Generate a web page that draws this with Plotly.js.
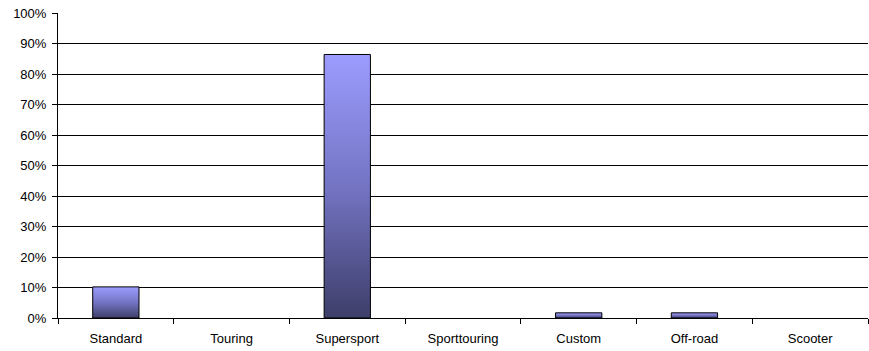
<!DOCTYPE html>
<html><head><meta charset="utf-8">
<script src="https://cdn.plot.ly/plotly-3.0.1.min.js"></script>
<style>html,body{margin:0;padding:0;background:#fff}</style>
</head><body>
<div id="chart" style="width:869px;height:351px"></div>
<script>
const categories = ["Standard","Touring","Supersport","Sporttouring","Custom","Off-road","Scooter"];
const shares = [0.102, 0, 0.864, 0, 0.017, 0.017, 0];
const yTickVals = [0,0.1,0.2,0.3,0.4,0.5,0.6,0.7,0.8,0.9,1.0];
const yTickText = ["0%","10%","20%","30%","40%","50%","60%","70%","80%","90%","100%"];

const trace = {
  type: 'bar', x: categories, y: shares,
  marker: {color: '#7b7bd0', line: {color: '#000', width: shares.map(v => v > 0 ? 1 : 0)}},
  hoverinfo: 'none'
};
const layout = {
  width: 869, height: 351,
  margin: {l: 58, r: 1, t: 13, b: 33},
  paper_bgcolor: '#fff', plot_bgcolor: '#fff',
  font: {family: 'Liberation Sans, Arial, sans-serif', size: 13, color: '#000'},
  bargap: 0.6,
  showlegend: false,
  xaxis: {type: 'category', showline: true, linecolor: '#000', linewidth: 1,
    ticks: 'outside', tickson: 'boundaries', ticklen: 5, tickcolor: '#000',
    showgrid: false, tickfont: {size: 13}, ticklabelstandoff: 8},
  yaxis: {range: [0, 1.0], tickvals: yTickVals, ticktext: yTickText,
    showline: true, linecolor: '#000', linewidth: 1, ticks: 'outside', ticklen: 5,
    tickcolor: '#000', showgrid: true, gridcolor: '#000', gridwidth: 1,
    zeroline: false, tickfont: {size: 13}, ticklabelstandoff: 3}
};
function applyGradient(gd){
  const svg = gd.querySelector('svg.main-svg');
  if(!svg) return;
  let defs = svg.querySelector('defs');
  if(!document.getElementById('barGrad')){
    const ns='http://www.w3.org/2000/svg';
    const g=document.createElementNS(ns,'linearGradient');
    g.setAttribute('id','barGrad');g.setAttribute('x1','0');g.setAttribute('y1','0');g.setAttribute('x2','0');g.setAttribute('y2','1');
    [['0','#9c9cff'],['0.5','#7474c4'],['1','#3e3e6a']].forEach(([o,c])=>{
      const s=document.createElementNS(ns,'stop');s.setAttribute('offset',o);s.setAttribute('stop-color',c);g.appendChild(s);});
    defs.appendChild(g);
  }
  gd.querySelectorAll('.bars .point path').forEach(p=>{p.style.fill='url(#barGrad)';});
}
Plotly.newPlot('chart',[trace],layout,{displayModeBar:false,staticPlot:true}).then(gd=>{
  applyGradient(gd);
  gd.on('plotly_afterplot',()=>applyGradient(gd));
});
</script>
</body></html>
